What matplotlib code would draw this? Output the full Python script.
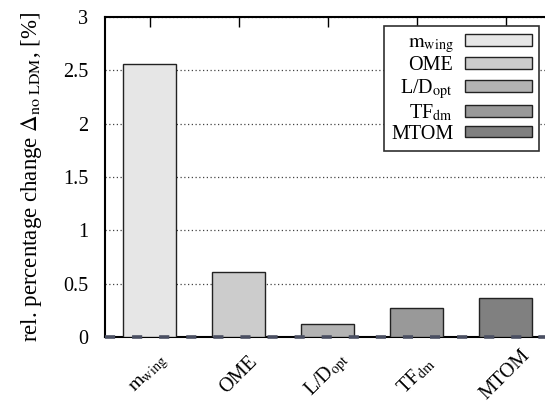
import matplotlib
matplotlib.use("Agg")
import matplotlib.pyplot as plt
import numpy as np

plt.rcParams["font.family"] = ["Liberation Serif", "DejaVu Serif"]
plt.rcParams["mathtext.fontset"] = "stix"

# relative change of each quantity without the load dependent model
labels = [r"$\mathrm{m_{wing}}$", "OME", r"L/D$_{\mathrm{opt}}$", r"TF$_{\mathrm{dm}}$", "MTOM"]
values = [2.562, 0.611, 0.125, 0.269, 0.370]
colors = ["#e6e6e6", "#cccccc", "#b3b3b3", "#999999", "#808080"]
yticks = [0, 0.5, 1, 1.5, 2, 2.5, 3]
ytick_labels = ["0", "0.5", "1", "1.5", "2", "2.5", "3"]

fig = plt.figure(figsize=(5.45, 4.03), dpi=100)
ax = fig.add_axes([0.1927, 0.1638, 0.8165, 0.7942])

x = np.arange(len(values))
for i in range(len(values)):
    ax.bar(x[i], values[i], width=0.6, color=colors[i], edgecolor="#222222",
           linewidth=1.0, label=labels[i], zorder=3)

# dashed zero line on top of the bottom axis
ax.axhline(0, color="#4a4f62", lw=2.6, ls=(0, (2.8, 4.7)), zorder=6, clip_on=False)

ax.set_xlim(-0.5, 4.5)
ax.set_ylim(0, 3)
ax.set_yticks(yticks)
ax.set_yticklabels(ytick_labels, fontsize=14.5)
ax.tick_params(axis="y", direction="in", length=0, pad=12)
ax.set_xticks(x)
ax.set_xticklabels([])
ax.tick_params(axis="x", direction="in", top=True, bottom=False, length=7, width=1)

# rotated category names centred under each bar
for xi, lab in zip(x, labels):
    ax.annotate(lab, xy=(xi, 0), xycoords=("data", "axes fraction"),
                xytext=(0, -27.5), textcoords="offset points",
                rotation=45, ha="center", va="center", fontsize=14.5,
                annotation_clip=False)

ax.grid(axis="y", ls=(0, (1, 2)), color="#444444", lw=0.9, zorder=0)
for s in ax.spines.values():
    s.set_linewidth(1.5)

ax.set_ylabel(r"rel. percentage change $\Delta_{\mathrm{no\ LDM}}$, [%]", fontsize=16.5, labelpad=14)

leg = ax.legend(loc="upper right", bbox_to_anchor=(0.975, 0.972), markerfirst=False,
                fontsize=14.5, handlelength=3.3, handleheight=0.5, handletextpad=0.6,
                labelspacing=0.08, borderpad=0.35, fancybox=False, framealpha=1,
                edgecolor="#303030", borderaxespad=0)
leg.get_frame().set_linewidth(1.2)
for t in leg.get_texts():
    t.set_ha("right")

fig.savefig("out.png", dpi=100)
